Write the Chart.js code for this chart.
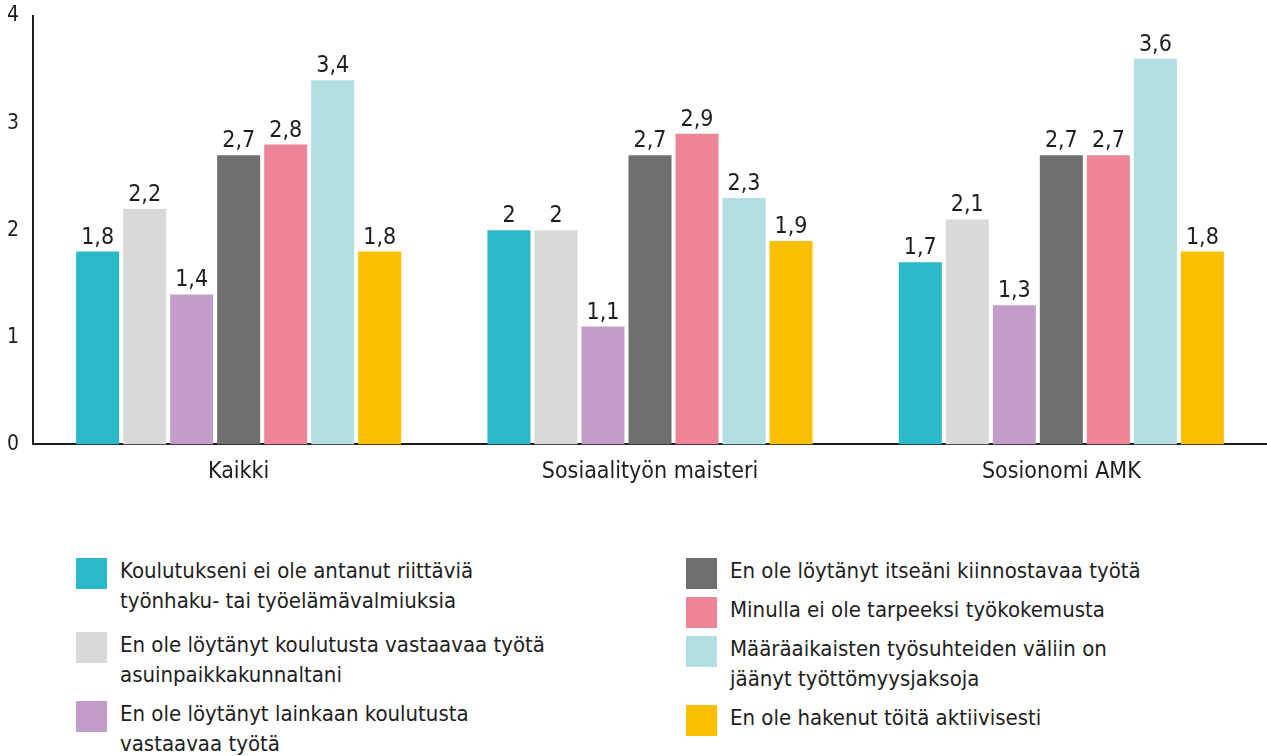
<!DOCTYPE html>
<html>
<head>
<meta charset="utf-8">
<script src="https://cdn.jsdelivr.net/npm/chart.js@4.4.1/dist/chart.umd.min.js"></script>
<style>
  html, body { margin: 0; padding: 0; background: #fff; }
  #wrap { position: relative; width: 1267px; height: 756px; overflow: hidden;
    font-family: "Liberation Sans Narrow", "DejaVu Sans Condensed", "Roboto", sans-serif; color: #1e1e1e; }
  #chartBox { position: absolute; left: 0; top: 0; width: 1267px; height: 500px; }
  .legcol { position: absolute; top: 556px; }
  .item { position: relative; padding-left: 44px; margin-bottom: 9px; font-size: 22px; line-height: 30px; white-space: nowrap; }
  #legL .item:first-child { margin-bottom: 14px; }
  .sw { position: absolute; left: 0; top: 2px; width: 31px; height: 31px; }
</style>
</head>
<body>
<div id="wrap">
  <div id="chartBox"><canvas id="c" width="1267" height="500"></canvas></div>
  <div class="legcol" id="legL" style="left:76px"></div>
  <div class="legcol" id="legR" style="left:686px"></div>
</div>
<script>
const categories = ["Kaikki", "Sosiaalityön maisteri", "Sosionomi AMK"];
const seriesLabels = [
  ["Koulutukseni ei ole antanut riittäviä", "työnhaku- tai työelämävalmiuksia"],
  ["En ole löytänyt koulutusta vastaavaa työtä", "asuinpaikkakunnaltani"],
  ["En ole löytänyt lainkaan koulutusta", "vastaavaa työtä"],
  ["En ole löytänyt itseäni kiinnostavaa työtä"],
  ["Minulla ei ole tarpeeksi työkokemusta"],
  ["Määräaikaisten työsuhteiden väliin on", "jäänyt työttömyysjaksoja"],
  ["En ole hakenut töitä aktiivisesti"]
];
const s1 = [1.8, 2.0, 1.7];
const s2 = [2.2, 2.0, 2.1];
const s3 = [1.4, 1.1, 1.3];
const s4 = [2.7, 2.7, 2.7];
const s5 = [2.8, 2.9, 2.7];
const s6 = [3.4, 2.3, 3.6];
const s7 = [1.8, 1.9, 1.8];
const yTicks = [0, 1, 2, 3, 4];
const colors = ["#2bb8c8", "#d9d9d9", "#c39dc9", "#6f6f6f", "#ee8498", "#b2dee4", "#fabf00"];

const seriesValues = [s1, s2, s3, s4, s5, s6, s7];
const FONT = '"Liberation Sans Narrow", "DejaVu Sans Condensed", "Roboto", sans-serif';
const TXT = "#1e1e1e";

const valueLabels = {
  id: "valueLabels",
  afterDatasetsDraw(chart) {
    const ctx = chart.ctx;
    ctx.save();
    ctx.font = "23px " + FONT;
    ctx.fillStyle = TXT;
    ctx.textAlign = "center";
    ctx.textBaseline = "alphabetic";
    chart.data.datasets.forEach((ds, di) => {
      const meta = chart.getDatasetMeta(di);
      meta.data.forEach((bar, i) => {
        const v = ds.data[i];
        ctx.fillText(String(v).replace(".", ","), bar.x, bar.y - 8);
      });
    });
    ctx.restore();
  }
};

new Chart(document.getElementById("c"), {
  type: "bar",
  data: {
    labels: categories,
    datasets: seriesValues.map((vals, i) => ({
      label: seriesLabels[i].join(" "),
      data: vals,
      backgroundColor: colors[i],
      borderWidth: 0,
      categoryPercentage: 0.8,
      barPercentage: 0.915
    }))
  },
  options: {
    responsive: false,
    animation: false,
    events: [],
    layout: { padding: { top: 16, right: 0, bottom: 0, left: 0 } },
    plugins: { legend: { display: false }, tooltip: { enabled: false } },
    scales: {
      x: {
        grid: { display: false, drawTicks: false },
        border: { display: true, color: "#1e1e1e", width: 2 },
        ticks: { color: TXT, font: { family: FONT, size: 23 }, padding: 14 }
      },
      y: {
        min: 0, max: 4,
        afterFit(s) { s.width = 33; s.paddingTop = 0; s.paddingBottom = 0; },
        afterBuildTicks(s) { s.ticks = yTicks.map(v => ({ value: v })); },
        grid: { display: false, drawTicks: false },
        border: { display: true, color: "#1e1e1e", width: 2 },
        ticks: { color: TXT, font: { family: FONT, size: 21 }, padding: 14 }
      }
    }
  },
  plugins: [valueLabels]
});

// HTML legend built from series labels/colors
function addItem(col, i) {
  const d = document.createElement("div");
  d.className = "item";
  const sw = document.createElement("span");
  sw.className = "sw";
  sw.style.background = colors[i];
  d.appendChild(sw);
  seriesLabels[i].forEach((line, k) => {
    if (k > 0) d.appendChild(document.createElement("br"));
    d.appendChild(document.createTextNode(line));
  });
  col.appendChild(d);
}
const L = document.getElementById("legL"), R = document.getElementById("legR");
[0, 1, 2].forEach(i => addItem(L, i));
[3, 4, 5, 6].forEach(i => addItem(R, i));
</script>
</body>
</html>
